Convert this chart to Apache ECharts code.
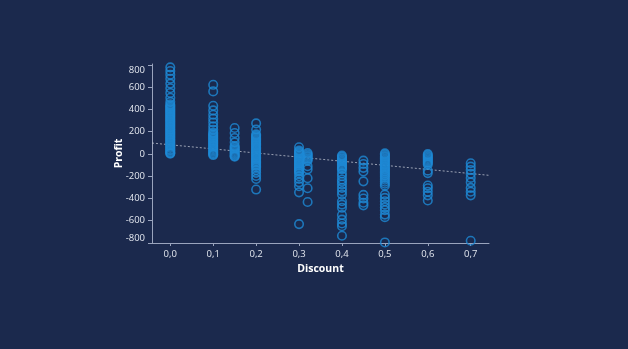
<!DOCTYPE html>
<html>
<head>
<meta charset="utf-8">
<script src="https://cdn.jsdelivr.net/npm/echarts@6/dist/echarts.min.js"></script>
<style>
html,body{margin:0;padding:0;background:#1b294d;}
#chart{width:628px;height:349px;}
</style>
</head>
<body>
<div id="chart"></div>
<script>
// Discount levels and profit values (one array per discount level)
const discountLevels = [0, 0.1, 0.15, 0.2, 0.3, 0.32, 0.4, 0.45, 0.5, 0.6, 0.7];
const profitAt000 = [778, 745, 712, 675, 632, 590, 548, 505, 468, 445, 432, 421, 409, 398, 386, 375, 363, 352, 340, 329, 317, 306, 294, 283, 271, 260, 248, 237, 225, 214, 202, 191, 179, 168, 156, 145, 133, 122, 110, 99, 87, 76, 64, 53, 41, 30, 18, 8, 3];
const profitAt010 = [621, 562, 433, 391, 352, 317, 283, 248, 218, 192, 181, 169, 158, 146, 135, 123, 112, 100, 89, 77, 66, 54, 43, 31, 20, 8, -2, -10];
const profitAt015 = [233, 188, 143, 104, 72, 61, 49, 38, 26, 15, 3, -8, -18, -24];
const profitAt020 = [275, 220, 176, 165, 153, 142, 130, 119, 107, 96, 84, 73, 61, 50, 38, 27, 15, 4, -8, -19, -31, -42, -54, -65, -77, -88, -100, -111, -124, -145, -170, -198, -225, -320];
const profitAt030 = [60, 30, 19, 7, -4, -16, -27, -39, -50, -62, -73, -85, -96, -108, -119, -131, -142, -152, -160, -175, -200, -225, -255, -290, -345, -630];
const profitAt032 = [8, -3, -15, -26, -38, -49, -60, -110, -138, -218, -308, -432];
const profitAt040 = [-15, -26, -38, -49, -61, -72, -84, -95, -107, -118, -130, -140, -175, -200, -230, -250, -275, -305, -335, -365, -425, -455, -484, -548, -590, -625, -650, -735];
const profitAt045 = [-60, -90, -125, -158, -246, -368, -400, -438, -462];
const profitAt050 = [5, -6, -18, -29, -41, -52, -64, -75, -87, -98, -110, -121, -133, -144, -156, -167, -179, -190, -200, -215, -232, -250, -268, -285, -365, -395, -425, -455, -480, -505, -545, -568, -795];
const profitAt060 = [-2, -13, -25, -36, -48, -59, -71, -82, -94, -150, -172, -284, -308, -340, -372, -418];
const profitAt070 = [-84, -114, -144, -178, -215, -255, -305, -340, -372, -780];
const profitByLevel = [profitAt000, profitAt010, profitAt015, profitAt020, profitAt030, profitAt032, profitAt040, profitAt045, profitAt050, profitAt060, profitAt070];

// Trend line end points
const trendDiscount = [-0.0426, 0.7426];
const trendProfit = [98, -192];

// Tick labels
const xTicks = [0, 0.1, 0.2, 0.3, 0.4, 0.5, 0.6, 0.7];
const yTicks = [-800, -600, -400, -200, 0, 200, 400, 600, 800];

const points = [];
discountLevels.forEach((d, i) => profitByLevel[i].forEach(p => points.push([d, p])));
const trend = trendDiscount.map((d, i) => [d, trendProfit[i]]);

const FONT = '"Open Sans", "Noto Sans", sans-serif';
const chart = echarts.init(document.getElementById('chart'), null, {renderer: 'canvas'});
chart.setOption({
  backgroundColor: '#1b294d',
  animation: false,
  grid: {left: 152, right: 139, top: 64, bottom: 106, containLabel: false},
  xAxis: {
    type: 'value', min: -0.0426, max: 0.7426,
    name: 'Discount', nameLocation: 'middle', nameGap: 21, nameMoveOverlap: false,
    nameTextStyle: {color: '#ffffff', fontWeight: 'bold', fontSize: 10.5, fontFamily: FONT},
    axisLine: {show: true, onZero: false, lineStyle: {color: '#9aa4bd', width: 1}},
    axisTick: {show: true, length: 3, customValues: xTicks, lineStyle: {color: '#9aa4bd'}},
    axisLabel: {customValues: xTicks, color: '#e3e7ef', fontSize: 9.5, fontFamily: FONT, margin: 6,
      formatter: v => v.toFixed(1).replace('.', ',')},
    splitLine: {show: false}
  },
  yAxis: {
    type: 'value', min: -800, max: 808,
    name: 'Profit', nameLocation: 'middle', nameGap: 27, nameMoveOverlap: false,
    nameTextStyle: {color: '#ffffff', fontWeight: 'bold', fontSize: 10.5, fontFamily: FONT},
    axisLine: {show: true, onZero: false, lineStyle: {color: '#9aa4bd', width: 1}},
    axisTick: {show: true, length: 4, customValues: yTicks, lineStyle: {color: '#9aa4bd'}},
    axisLabel: {customValues: yTicks, color: '#e3e7ef', fontSize: 9.5, fontFamily: FONT, margin: 7,
      verticalAlignMinLabel: 'bottom', verticalAlignMaxLabel: 'top',
      formatter: v => String(v)},
    splitLine: {show: false}
  },
  series: [
    {
      type: 'line', data: trend, symbol: 'none', silent: true, z: 1,
      lineStyle: {color: '#c3c8d4', width: 1, type: [2, 2], opacity: 0.75}
    },
    {
      type: 'scatter', data: points, symbol: 'circle', symbolSize: 8.5, z: 2,
      itemStyle: {color: 'rgba(0,0,0,0)', borderColor: '#1e8ad6', borderWidth: 1.6}
    }
  ]
});
</script>
</body>
</html>
